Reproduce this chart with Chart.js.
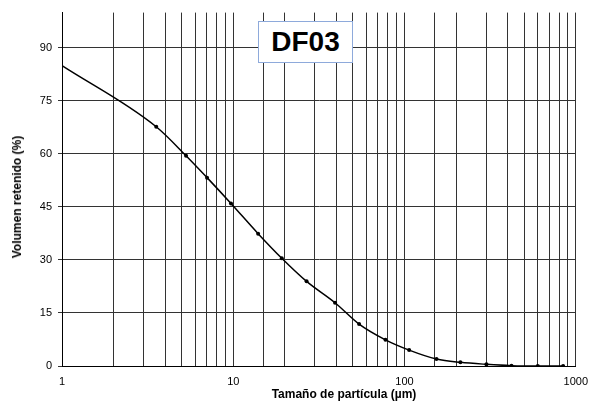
<!DOCTYPE html>
<html>
<head>
<meta charset="utf-8">
<script src="https://cdn.jsdelivr.net/npm/chart.js@4"></script>
<style>
  html, body { margin: 0; padding: 0; background: #fff; }
  #wrap { position: relative; width: 597px; height: 408px; }
  #c { position: absolute; left: 0; top: 0; }
  .lbl { position: absolute; font-family: Arial, "Liberation Sans", sans-serif; color: #000; white-space: nowrap; }
  #ttl { left: 258px; top: 21px; width: 95px; height: 42px; box-sizing: border-box; border: 1px solid #8eaadb;
         background: #fff; font-weight: bold; font-size: 28px; display: flex; align-items: center; justify-content: center; }
  #xt { font-weight: bold; font-size: 12px; left: 344px; top: 394px; transform: translate(-50%, -50%); }
  #yt { font-weight: bold; font-size: 12px; left: 16.5px; top: 196.5px; transform: translate(-50%, -50%) rotate(-90deg); }
</style>
</head>
<body>
<div id="wrap">
  <canvas id="c" width="597" height="408"></canvas>
  <div class="lbl" id="ttl">DF03</div>
  <div class="lbl" id="xt">Tamaño de partícula (µm)</div>
  <div class="lbl" id="yt">Volumen retenido (%)</div>
</div>
<script>
const sizes = [1, 3.55, 5.3, 7.03, 9.7, 13.97, 19.2, 26.8, 39.3, 54.3, 77.4, 106.4, 153.7, 212, 300.9, 421.5, 600, 844];
const retained = [85.0, 67.7, 59.5, 53.3, 46.0, 37.45, 30.5, 23.95, 17.9, 11.85, 7.4, 4.5, 1.97, 1.03, 0.47, 0.1, 0, 0];
const xDecades = [1, 10, 100, 1000];
const yTicks = [0, 15, 30, 45, 60, 75, 90];

const points = sizes.map((s, i) => ({ x: s, y: retained[i] }));
const FONT = 'Arial, "Liberation Sans", sans-serif';

new Chart(document.getElementById('c'), {
  type: 'line',
  data: {
    datasets: [{
      data: points,
      borderColor: '#000',
      borderWidth: 1.5,
      backgroundColor: '#000',
      pointRadius: ctx => ctx.dataIndex === 0 ? 0 : 2,
      pointBorderWidth: 0,
      pointBackgroundColor: '#000',
      cubicInterpolationMode: 'monotone',
      fill: false
    }]
  },
  options: {
    responsive: false,
    animation: false,
    layout: { padding: { left: 0, right: 15, top: 8, bottom: 0 } },
    plugins: { legend: { display: false }, tooltip: { enabled: false } },
    scales: {
      x: {
        type: 'logarithmic',
        min: 1, max: 1000,
        afterFit: s => { s.height = 42; },
        border: { display: true, color: '#000', width: 1 },
        grid: { color: '#333', lineWidth: 1, drawTicks: false },
        ticks: {
          autoSkip: false, maxRotation: 0, padding: 9,
          color: '#000', font: { family: FONT, size: 11 },
          callback: v => xDecades.includes(v) ? String(v) : ''
        }
      },
      y: {
        type: 'linear',
        min: 0, max: 100,
        afterFit: s => { s.width = 62; },
        afterBuildTicks: s => { s.ticks = yTicks.map(v => ({ value: v })); },
        border: { display: true, color: '#000', width: 1 },
        grid: { color: '#333', lineWidth: 1, drawTicks: true, tickLength: 4 },
        ticks: {
          padding: 6, color: '#000', font: { family: FONT, size: 11 }
        }
      }
    }
  }
});
</script>
</body>
</html>
